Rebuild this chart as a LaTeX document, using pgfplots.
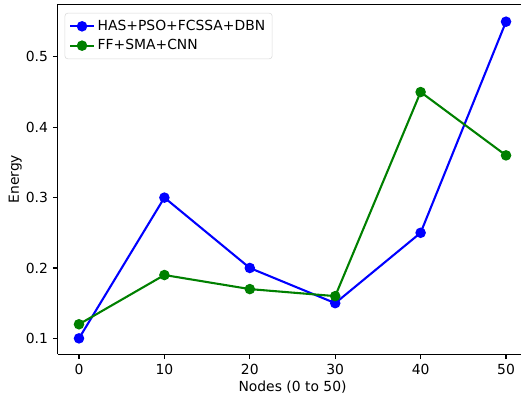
\documentclass[border=0pt]{standalone}
\usepackage{pgfplots}
\pgfplotsset{compat=1.18}
\usepackage{fontspec}
\setmainfont{DejaVu Sans}
\usetikzlibrary{calc}
\definecolor{mgreen}{rgb}{0,0.5,0}
\begin{document}
\begin{tikzpicture}
\begin{axis}[
  scale only axis,
  width=338.2pt, height=252pt,
  xmin=-2.5, xmax=52.5,
  ymin=0.0775, ymax=0.5749,
  axis x line*=box, axis y line*=left,
  xtick={0,10,20,30,40,50},
  ytick={0.1,0.2,0.3,0.4,0.5},
  yticklabel style={/pgf/number format/fixed,/pgf/number format/precision=1},
  /pgf/number format/assume math mode=true,
  tick align=outside,
  xtick pos=lower, ytick pos=left,
  major tick length=3.5pt,
  every tick/.style={black, line width=0.8pt},
  axis line style={line width=0.8pt, -},
  tick label style={font=\fontsize{10}{12}\selectfont, text=black},
  xlabel={Nodes (0 to 50)},
  ylabel={Energy},
  label style={font=\fontsize{10}{12}\selectfont},
  xlabel style={yshift=2pt},
  ylabel style={yshift=-4pt},
  legend style={font=\fontsize{10}{12}\selectfont, draw=black!15, rounded corners=2pt, at={(0.015,0.975)}, anchor=north west, inner sep=3pt, row sep=1pt},
  legend cell align=left,
  legend image code/.code={\draw[#1, mark repeat=2, mark phase=2] plot coordinates {(0cm,0cm) (0.3cm,0cm) (0.6cm,0cm)};},
]
\addplot[color=blue, line width=1.5pt, mark=*, mark size=3pt] coordinates {
 (0,0.10) (10,0.30) (20,0.20) (30,0.15) (40,0.25) (50,0.55)};
\addlegendentry{HAS+PSO+FCSSA+DBN}
\addplot[color=mgreen, line width=1.5pt, mark=*, mark size=3pt] coordinates {
 (0,0.12) (10,0.19) (20,0.17) (30,0.16) (40,0.45) (50,0.36)};
\addlegendentry{FF+SMA+CNN}
\end{axis}
\pgfresetboundingbox
\useasboundingbox ($(current axis.south west)+(-41.5pt,-31.7pt)$) rectangle ($(current axis.south west)+(333.6pt,255pt)$);
\end{tikzpicture}
\end{document}
